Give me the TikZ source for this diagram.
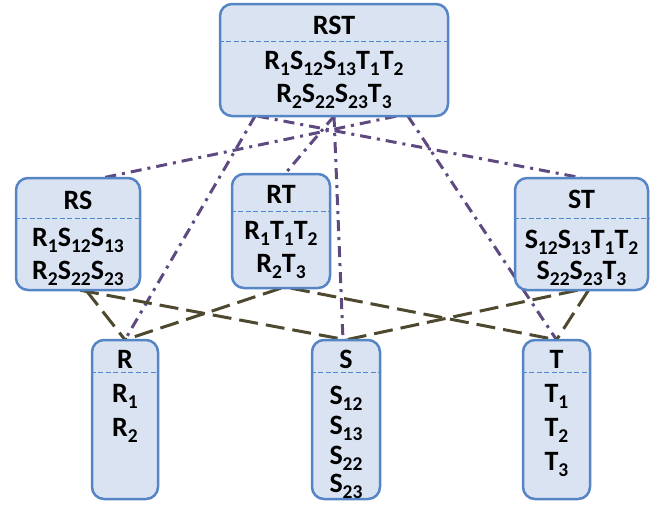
\documentclass[tikz,border=0pt]{standalone}
\usepackage{fontspec}
\setmainfont{Carlito}
\definecolor{boxblue}{HTML}{5585C5}
\definecolor{boxfill}{HTML}{DAE3F2}
\definecolor{sepblue}{HTML}{4F87CF}
\definecolor{ddpurple}{HTML}{5E4A80}
\definecolor{dsolive}{HTML}{4D482E}
\newcommand\sbx[1]{\raisebox{-6pt}{\fontsize{19.5}{19.5}\selectfont #1}}
\begin{document}
\begin{tikzpicture}[x=1pt,y=-1pt,
  box/.style={draw=boxblue, fill=boxfill, line width=2.5pt, rounded corners=12pt, inner sep=0pt},
  sepline/.style={draw=sepblue, line width=1.4pt, dash pattern=on 5pt off 2.5pt},
  txt/.style={anchor=base, inner sep=0pt, font=\fontsize{28}{32}\selectfont\bfseries},
  dd/.style={draw=ddpurple, line width=3pt, dash pattern=on 11pt off 6pt on 3pt off 6pt},
  ds/.style={draw=dsolive, line width=3pt, dash pattern=on 19pt off 8pt}]
\useasboundingbox (0,0) rectangle (664,504);

\path (334,60) coordinate (cRST);
\path (78,234) coordinate (cRS);
\path (281,231) coordinate (cRT);
\path (581.5,234) coordinate (cST);
\path (125,419.5) coordinate (cR);
\path (346,419.5) coordinate (cS);
\path (556.5,419.5) coordinate (cT);

% invisible placeholders for anchors
\node[minimum width=228pt, minimum height=112pt, inner sep=0pt] (RST) at (cRST) {};
\node[minimum width=124pt, minimum height=112pt, inner sep=0pt] (RS) at (cRS) {};
\node[minimum width=98pt, minimum height=114pt, inner sep=0pt] (RT) at (cRT) {};
\node[minimum width=133pt, minimum height=112pt, inner sep=0pt] (ST) at (cST) {};
\node[minimum width=66pt, minimum height=159pt, inner sep=0pt] (R) at (cR) {};
\node[minimum width=68pt, minimum height=159pt, inner sep=0pt] (S) at (cS) {};
\node[minimum width=67pt, minimum height=159pt, inner sep=0pt] (T) at (cT) {};

% dash-dot connectors from RST
\draw[dd] ([xshift=-76pt]RST.south) -- (ST.north);
\draw[dd] ([xshift=62pt]RST.south) -- ([xshift=25pt]RS.north);
\draw[dd] (RST.south) -- ([xshift=4pt]RT.north);
\draw[dd] (RST.south) -- ([xshift=-3pt]S.north);
\draw[dd] ([xshift=-79pt]RST.south) -- (R.north);
\draw[dd] ([xshift=74pt]RST.south) -- (T.north);

% dashed connectors
\draw[ds] ([xshift=8pt]RS.south) -- (R.north);
\draw[ds] ([xshift=2pt]RS.south) -- (S.north);
\draw[ds] (RT.south) -- (R.north);
\draw[ds] ([xshift=10pt]RT.south) -- (T.north);
\draw[ds] ([xshift=-4pt]ST.south) -- (S.north);
\draw[ds] ([xshift=7pt]ST.south) -- (T.north);

% boxes
\node[box, minimum width=228pt, minimum height=112pt] (bRST) at (cRST) {};
\node[box, minimum width=124pt, minimum height=112pt] (bRS) at (cRS) {};
\node[box, minimum width=98pt, minimum height=114pt] (bRT) at (cRT) {};
\node[box, minimum width=133pt, minimum height=112pt] (bST) at (cST) {};
\node[box, minimum width=66pt, minimum height=159pt] (bR) at (cR) {};
\node[box, minimum width=68pt, minimum height=159pt] (bS) at (cS) {};
\node[box, minimum width=67pt, minimum height=159pt] (bT) at (cT) {};

% separators
\draw[sepline] ([yshift=-39pt]bRST.north west) -- ([yshift=-39pt]bRST.north east);
\draw[sepline] ([yshift=-42pt]bRS.north west) -- ([yshift=-42pt]bRS.north east);
\draw[sepline] ([yshift=-39pt]bRT.north west) -- ([yshift=-39pt]bRT.north east);
\draw[sepline] ([yshift=-42pt]bST.north west) -- ([yshift=-42pt]bST.north east);
\draw[sepline] ([yshift=-34pt]bR.north west) -- ([yshift=-34pt]bR.north east);
\draw[sepline] ([yshift=-34pt]bS.north west) -- ([yshift=-34pt]bS.north east);
\draw[sepline] ([yshift=-34pt]bT.north west) -- ([yshift=-34pt]bT.north east);

% texts
\node[txt] (tRST) at (334,34) {RST};
\node[txt] (tRST1) at (334,69) {R\sbx{1}S\sbx{12}S\sbx{13}T\sbx{1}T\sbx{2}};
\node[txt] (tRST2) at (334,102) {R\sbx{2}S\sbx{22}S\sbx{23}T\sbx{3}};

\node[txt] (tRS) at (78,209) {RS};
\node[txt] (tRS1) at (78,246) {R\sbx{1}S\sbx{12}S\sbx{13}};
\node[txt] (tRS2) at (78,279) {R\sbx{2}S\sbx{22}S\sbx{23}};

\node[txt] (tRT) at (281,203) {RT};
\node[txt] (tRT1) at (281,239) {R\sbx{1}T\sbx{1}T\sbx{2}};
\node[txt] (tRT2) at (281,272) {R\sbx{2}T\sbx{3}};

\node[txt] (tST) at (581.5,208) {ST};
\node[txt] (tST1) at (581.5,248) {S\sbx{12}S\sbx{13}T\sbx{1}T\sbx{2}};
\node[txt] (tST2) at (581.5,279) {S\sbx{22}S\sbx{23}T\sbx{3}};

\node[txt] (tR) at (125,368) {R};
\node[txt] (tR1) at (125,402) {R\sbx{1}};
\node[txt] (tR2) at (125,436) {R\sbx{2}};

\node[txt] (tS) at (346,368) {S};
\node[txt] (tS1) at (346,404) {S\sbx{12}};
\node[txt] (tS2) at (346,434) {S\sbx{13}};
\node[txt] (tS3) at (346,464) {S\sbx{22}};
\node[txt] (tS4) at (346,492) {S\sbx{23}};

\node[txt] (tT) at (556.5,368) {T};
\node[txt] (tT1) at (556.5,402) {T\sbx{1}};
\node[txt] (tT2) at (556.5,436) {T\sbx{2}};
\node[txt] (tT3) at (556.5,470) {T\sbx{3}};
\end{tikzpicture}
\end{document}
